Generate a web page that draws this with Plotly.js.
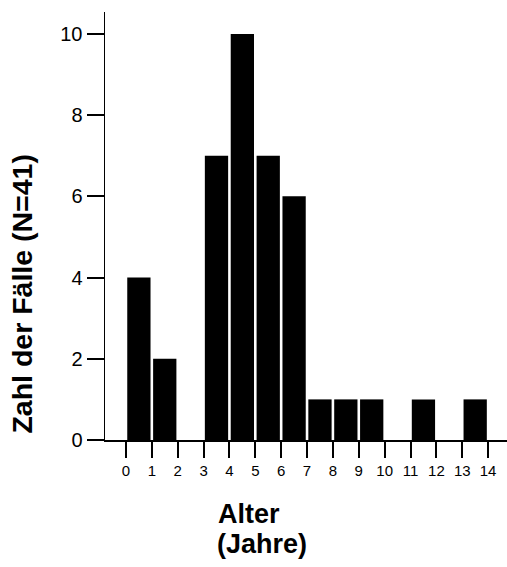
<!DOCTYPE html>
<html>
<head>
<meta charset="utf-8">
<script src="https://cdn.plot.ly/plotly-3.0.1.min.js"></script>
<style>html,body{margin:0;padding:0;background:#fff;}</style>
</head>
<body>
<div id="chart" style="width:507px;height:567px;"></div>
<script>
// Age bins (start of each one-year interval) and counts
const binStarts = [0, 1, 2, 3, 4, 5, 6, 7, 8, 9, 10, 11, 12, 13];
const counts    = [4, 2, 0, 7, 10, 7, 6, 1, 1, 1, 0, 1, 0, 1];
const xTickVals = [0, 1, 2, 3, 4, 5, 6, 7, 8, 9, 10, 11, 12, 13, 14];
const xTickText = ["0","1","2","3","4","5","6","7","8","9","10","11","12","13","14"];
const yTickVals = [0, 2, 4, 6, 8, 10];
const yTitle = "Zahl der Fälle (N=41)";
const xTitleLine1 = "Alter";
const xTitleLine2 = "(Jahre)";

const FONT = "Liberation Sans, Arial, Helvetica, sans-serif";

const trace = {
  type: "bar",
  x: binStarts,
  y: counts,
  offset: 0.05,
  width: 0.9,
  marker: { color: "#000000", line: { width: 0 } },
  hoverinfo: "skip"
};

const layout = {
  width: 507,
  height: 567,
  margin: { l: 105, r: 0, t: 12, b: 127, pad: 0 },
  paper_bgcolor: "#ffffff",
  plot_bgcolor: "#ffffff",
  showlegend: false,
  font: { family: FONT, color: "#000000" },
  xaxis: {
    range: [-0.81, 14.73],
    tickvals: xTickVals,
    ticktext: xTickText,
    ticks: "outside",
    ticklen: 16,
    tickwidth: 2,
    tickcolor: "#000000",
    showline: true,
    linecolor: "#000000",
    linewidth: 1.5,
    showgrid: false,
    zeroline: false,
    tickfont: { family: FONT, size: 15, color: "#000000" }
  },
  yaxis: {
    range: [0, 10.54],
    tickvals: yTickVals,
    ticks: "outside",
    ticklen: 17,
    tickwidth: 2,
    tickcolor: "#000000",
    showline: true,
    linecolor: "#000000",
    linewidth: 1.5,
    showgrid: false,
    zeroline: false,
    tickfont: { family: FONT, size: 20, color: "#000000" }
  },
  annotations: [
    {
      text: yTitle, textangle: -90, showarrow: false,
      xref: "paper", yref: "paper", x: -0.2065, y: 0.342,
      xanchor: "center", yanchor: "middle",
      font: { family: FONT, size: 28.5, weight: "bold", color: "#000000" }
    },
    {
      text: xTitleLine1, showarrow: false,
      xref: "paper", yref: "paper", x: 0.277, y: -0.172,
      xanchor: "left", yanchor: "middle",
      font: { family: FONT, size: 27, weight: "bold", color: "#000000" }
    },
    {
      text: xTitleLine2, showarrow: false,
      xref: "paper", yref: "paper", x: 0.273, y: -0.242,
      xanchor: "left", yanchor: "middle",
      font: { family: FONT, size: 27, weight: "bold", color: "#000000" }
    }
  ]
};

Plotly.newPlot("chart", [trace], layout, { displayModeBar: false, staticPlot: true });
</script>
</body>
</html>
